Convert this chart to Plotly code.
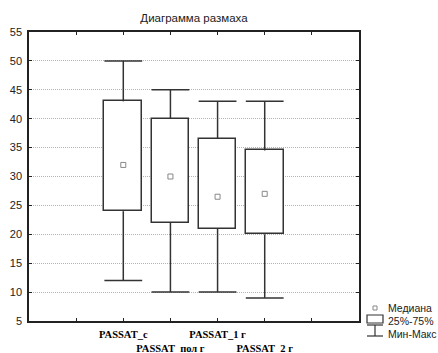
import plotly.graph_objects as go

# ---- data ----
categories = ["PASSAT_c", "PASSAT_пол г", "PASSAT_1 г", "PASSAT_2 г"]
positions = [2, 3, 4, 5]
minimum = [12, 10, 10, 9]
q1 = [24, 22, 21, 20]
median = [32, 30, 26.5, 27]
q3 = [43, 40, 36.5, 34.5]
maximum = [50, 45, 43, 43]
y_ticks = [5, 10, 15, 20, 25, 30, 35, 40, 45, 50, 55]
x_tickvals = [1, 2, 3, 4, 5, 6]
x_ticktext = ["", "PASSAT_c", "<br>PASSAT_пол г", "PASSAT_1 г", "<br>PASSAT_2 г", ""]
legend_labels = ["Медиана", "25%-75%", "Мин-Макс"]
title_text = "Диаграмма размаха"

W, H = 438, 353
ML, MR, MT, MB = 29, 79, 32, 32
SANS = "Liberation Sans, Arial, sans-serif"
SERIF = "Liberation Serif, Times New Roman, serif"
EDGE = "#333333"

def px_x(p):
    return (p - ML) / (W - ML - MR)

def px_y(p):
    return (H - MB - p) / (H - MT - MB)

fig = go.Figure()

# boxes (25%-75%)
fig.add_trace(go.Bar(
    x=positions,
    y=[b - a for a, b in zip(q1, q3)],
    base=q1,
    width=0.8,
    marker=dict(color="white", line=dict(color=EDGE, width=1.5)),
    showlegend=False, hoverinfo="skip",
))

# whisker stems
stem_x, stem_y = [], []
for p, lo, a, b, hi in zip(positions, minimum, q1, q3, maximum):
    stem_x += [p, p, None, p, p, None]
    stem_y += [b, hi, None, a, lo, None]
fig.add_trace(go.Scatter(
    x=stem_x, y=stem_y, mode="lines",
    line=dict(color=EDGE, width=1.5),
    showlegend=False, hoverinfo="skip",
))
# whisker caps
fig.add_trace(go.Scatter(
    x=positions + positions, y=maximum + minimum, mode="markers",
    marker=dict(symbol="line-ew", size=27, line=dict(color=EDGE, width=1.5)),
    showlegend=False, hoverinfo="skip",
))
# medians
fig.add_trace(go.Scatter(
    x=positions, y=median, mode="markers",
    marker=dict(symbol="square-open", size=5, color="#888888", line=dict(width=1)),
    showlegend=False, hoverinfo="skip",
))

axis_common = dict(
    showline=True, linecolor="#222222", linewidth=1.5, mirror="ticks",
    ticks="inside", ticklen=3, tickcolor="#222222", tickwidth=1,
    zeroline=False, automargin=False,
)

fig.update_xaxes(
    range=[0, 7], tickvals=x_tickvals, ticktext=x_ticktext,
    showgrid=False, tickangle=0, ticklabelstandoff=3,
    tickfont=dict(family=SERIF, size=10.5, color="black", weight="bold"),
    **axis_common,
)
fig.update_yaxes(
    range=[5, 55], tickvals=y_ticks,
    showgrid=True, gridcolor="#b4b4b4", griddash="1px,1px", gridwidth=1,
    ticklabelstandoff=3,
    tickfont=dict(family=SANS, size=11, color="#222222"),
    **axis_common,
)

# legend drawn manually
shapes = []
annotations = []
shapes.append(dict(type="rect", xref="paper", yref="paper",
                   x0=px_x(373), x1=px_x(377), y0=px_y(310), y1=px_y(306),
                   line=dict(color="#888888", width=1), fillcolor="white"))
shapes.append(dict(type="rect", xref="paper", yref="paper",
                   x0=px_x(367), x1=px_x(383), y0=px_y(323), y1=px_y(315),
                   line=dict(color=EDGE, width=1.2), fillcolor="white"))
shapes.append(dict(type="line", xref="paper", yref="paper",
                   x0=px_x(367), x1=px_x(383), y0=px_y(325), y1=px_y(325),
                   line=dict(color=EDGE, width=1.2)))
shapes.append(dict(type="line", xref="paper", yref="paper",
                   x0=px_x(375), x1=px_x(375), y0=px_y(325), y1=px_y(336),
                   line=dict(color=EDGE, width=1.2)))
shapes.append(dict(type="line", xref="paper", yref="paper",
                   x0=px_x(367), x1=px_x(383), y0=px_y(336), y1=px_y(336),
                   line=dict(color=EDGE, width=1.2)))
for lab, yy in zip(legend_labels, [308, 321, 334]):
    annotations.append(dict(text=lab, xref="paper", yref="paper",
                            x=px_x(386), y=px_y(yy), xanchor="left", yanchor="middle",
                            showarrow=False,
                            font=dict(family=SANS, size=10.5, color="#222222")))

fig.update_layout(
    width=W, height=H,
    margin=dict(l=ML, r=MR, t=MT, b=MB, autoexpand=False),
    paper_bgcolor="white", plot_bgcolor="white",
    title=dict(text=title_text, x=194 / W, xanchor="center", xref="container",
               y=1 - 18 / H, yanchor="middle", yref="container",
               font=dict(family=SANS, size=11.5, color="#222222")),
    shapes=shapes, annotations=annotations,
    bargap=0, showlegend=False,
)

fig.write_html("out.html", config={"displayModeBar": False})
